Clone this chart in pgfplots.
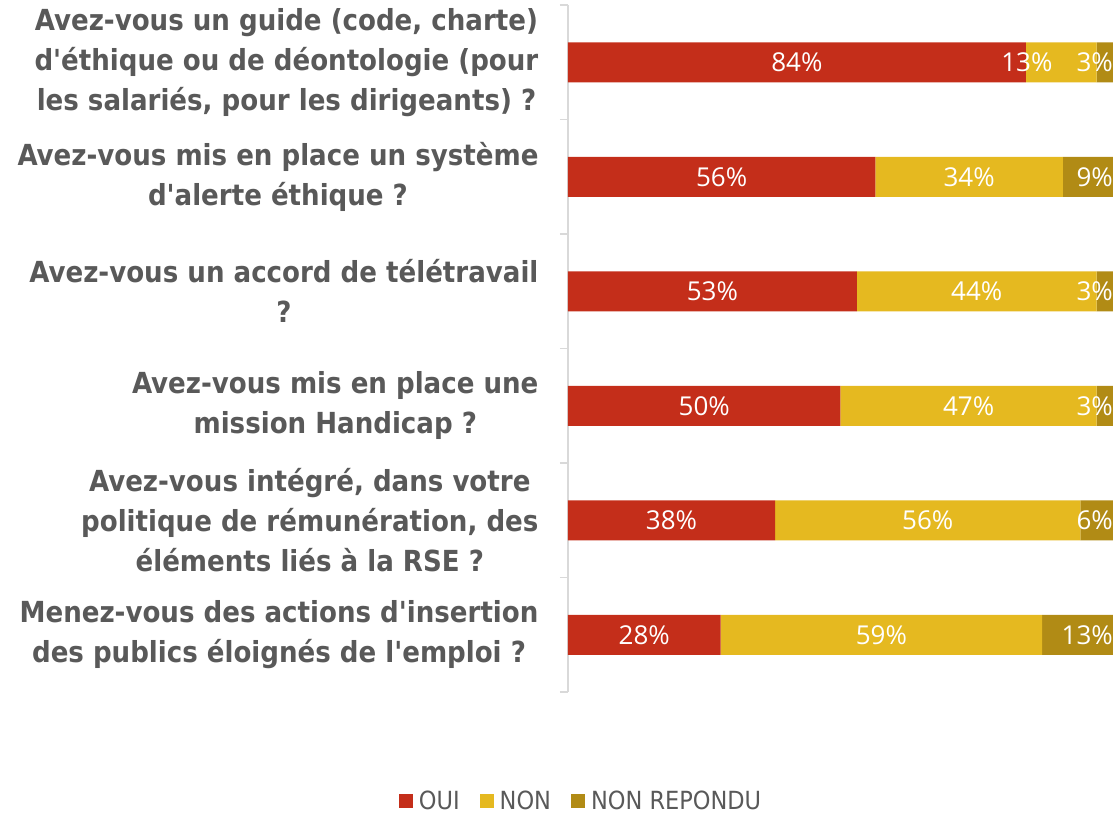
\documentclass[border=0pt]{standalone}
\usepackage{fontspec}
\usepackage{pgfplots}
\pgfplotsset{compat=1.18}
\usepackage{pgfplotstable}
\newfontfamily\labfont{DejaVu Sans Condensed}
\newfontfamily\numfont{Open Sans}
\definecolor{ouiRed}{HTML}{C42E1A}
\definecolor{nonYellow}{HTML}{E5B920}
\definecolor{nrOlive}{HTML}{B18B15}
\definecolor{txtGray}{HTML}{595959}
\definecolor{axGray}{HTML}{D9D9D9}

% npos = where the NON label sits (Excel nudged the first one left)
\pgfplotstableread{
cat oui non nr npos
0 84 13 3 84.2
1 56.4 34.4 9.2 73.6
2 53 44 3 75
3 50 47 3 73.5
4 38 56 6 66
5 28 59 13 57.5
}\datatable

\begin{document}
\begin{tikzpicture}
\useasboundingbox (-568pt,-124pt) rectangle (549pt,692pt);
\begin{axis}[
  scale only axis, width=545pt, height=687pt,
  xbar stacked, bar width=40pt,
  xmin=0, xmax=100, ymin=-0.5, ymax=5.5, y dir=reverse,
  hide x axis,
  axis y line*=left,
  y axis line style={axGray, line width=1.2pt},
  ytick={0,...,5}, major tick length=0pt,
  minor ytick={-0.5,0.5,...,5.5}, minor tick length=8pt,
  every minor tick/.style={axGray, line width=1.2pt},
  tick align=outside, ytick pos=left,
  yticklabels={
    {Avez-vous un guide (code, charte)\\d'éthique ou de déontologie (pour\\les salariés, pour les dirigeants) ?},
    {Avez-vous mis en place un système\\d'alerte éthique ?},
    {Avez-vous un accord de télétravail\\?},
    {Avez-vous mis en place une\\mission Handicap ?},
    {Avez-vous intégré, dans votre\\politique de rémunération, des\\éléments liés à la RSE ?},
    {Menez-vous des actions d'insertion\\des publics éloignés de l'emploi ?}},
  yticklabel style={align=center, anchor=east, xshift=-26pt, text=txtGray,
    font=\labfont\bfseries\fontsize{29}{40}\selectfont},
  legend style={at={(0.024,-0.158)}, anchor=center, draw=none, fill=none,
    inner sep=0pt, legend columns=-1,
    font=\labfont\fontsize{25}{28}\selectfont, text=txtGray,
    /tikz/every odd column/.append style={column sep=4pt},
    /tikz/every even column/.append style={column sep=18pt}},
  legend image code/.code={\fill[#1] (0pt,-7pt) rectangle (14pt,7pt);},
]
\addplot[fill=ouiRed, draw=none] table[x=oui, y=cat] {\datatable};
\addplot[fill=nonYellow, draw=none] table[x=non, y=cat] {\datatable};
\addplot[fill=nrOlive, draw=none] table[x=nr, y=cat] {\datatable};
\legend{OUI, NON, NON REPONDU}
\end{axis}
\begin{axis}[
  scale only axis, width=545pt, height=687pt,
  xmin=0, xmax=100, ymin=-0.5, ymax=5.5, y dir=reverse,
  hide axis,
  nodes near coords={\pgfmathprintnumber[fixed,precision=0,assume math mode=true]{\pgfplotspointmeta}\%},
  nodes near coords align=center,
  every node near coord/.append style={text=white, font=\numfont\fontsize{26}{28}\selectfont},
]
\addplot[draw=none, mark=none, point meta=\thisrow{oui}]
  table[x expr=\thisrow{oui}/2, y=cat] {\datatable};
\addplot[draw=none, mark=none, point meta=\thisrow{non}]
  table[x=npos, y=cat] {\datatable};
\addplot[draw=none, mark=none, point meta=\thisrow{nr},
  every node near coord/.append style={anchor=east, inner sep=0pt}]
  table[x expr=100, y=cat] {\datatable};
\end{axis}
\end{tikzpicture}
\end{document}
